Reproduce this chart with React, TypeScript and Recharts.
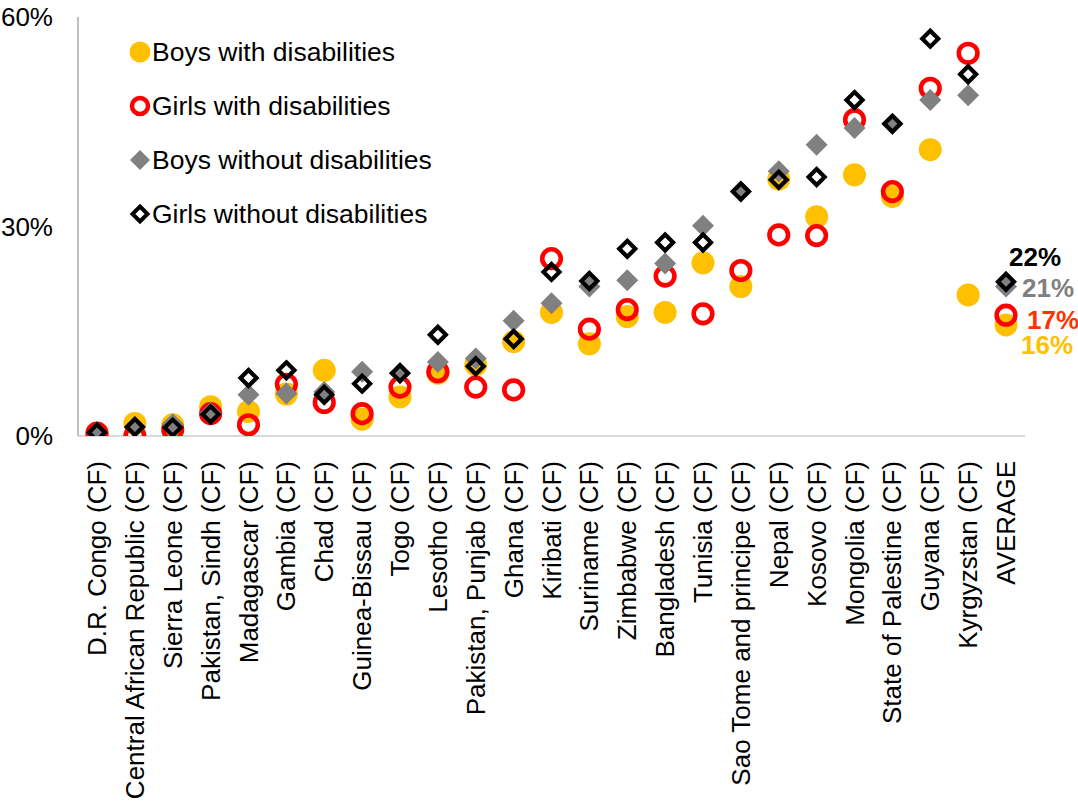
import React from "react";
import { ComposedChart, Scatter, XAxis, YAxis, Legend, LabelList } from "recharts";

const categories = [
  "D.R. Congo (CF)", "Central African Republic (CF)", "Sierra Leone (CF)", "Pakistan, Sindh (CF)",
  "Madagascar (CF)", "Gambia (CF)", "Chad (CF)", "Guinea-Bissau (CF)", "Togo (CF)", "Lesotho (CF)",
  "Pakistan, Punjab (CF)", "Ghana (CF)", "Kiribati (CF)", "Suriname (CF)", "Zimbabwe (CF)",
  "Bangladesh (CF)", "Tunisia (CF)", "Sao Tome and principe (CF)", "Nepal (CF)", "Kosovo (CF)",
  "Mongolia (CF)", "State of Palestine (CF)", "Guyana (CF)", "Kyrgyzstan (CF)", "AVERAGE",
];

const boysWith = [0.1, 1.8, 1.6, 4.2, 3.5, 6.0, 9.4, 2.4, 5.6, 9.0, 10.2, 13.5, 17.7, 13.2, 17.1, 17.7, 24.8, 21.4, 36.8, 31.4, 37.4, 34.3, 41.0, 20.2, 15.9];
const girlsWith = [0.4, 0.0, 0.9, 3.2, 1.6, 7.4, 4.8, 3.2, 7.0, 9.2, 7.0, 6.6, 25.4, 15.3, 18.1, 22.9, 17.5, 23.7, 28.8, 28.7, 45.3, 35.0, 49.8, 54.8, 17.3];
const boysWithout = [0.5, 1.3, 1.7, 3.3, 5.9, 6.1, 6.3, 9.2, 9.0, 10.6, 11.1, 16.5, 19.0, 21.4, 22.3, 24.7, 30.1, 35.0, 37.9, 41.7, 44.1, 44.7, 48.1, 48.8, 21.4];
const girlsWithout = [0.5, 1.3, 1.2, 3.1, 8.3, 9.4, 5.9, 7.5, 9.0, 14.5, 10.0, 13.9, 23.5, 22.2, 26.8, 27.7, 27.7, 35.0, 36.7, 37.1, 48.1, 44.7, 56.9, 51.8, 22.1];

const yTicks = [0, 30, 60];
const seriesNames = ["Boys with disabilities", "Girls with disabilities", "Boys without disabilities", "Girls without disabilities"];

const YELLOW = "#FFC000";
const RED = "#FF0000";
const GRAY = "#808080";
const BLACK = "#000000";
const FONT = "'Liberation Sans', Arial, sans-serif";

const data = categories.map((name, i) => ({
  name,
  boysWith: boysWith[i],
  girlsWith: girlsWith[i],
  boysWithout: boysWithout[i],
  girlsWithout: girlsWithout[i],
}));

const lastIndex = categories.length - 1;

const YellowDot = (p: any) => <circle cx={p.cx} cy={p.cy} r={11.5} fill={YELLOW} />;
const RedRing = (p: any) => <circle cx={p.cx} cy={p.cy} r={9.3} fill="none" stroke={RED} strokeWidth={4.6} />;
const diamond = (cx: number, cy: number, h: number) =>
  `${cx},${cy - h} ${cx + h},${cy} ${cx},${cy + h} ${cx - h},${cy}`;
const GrayDiamond = (p: any) => <polygon points={diamond(p.cx, p.cy, 11)} fill={GRAY} />;
const BlackDiamond = (p: any) => (
  <polygon points={diamond(p.cx, p.cy, 8)} fill="none" stroke={BLACK} strokeWidth={4.2} strokeLinejoin="miter" />
);

const makeLabel = (color: string, dx: number, dy: number) => (props: any) => {
  const { x, y, width, height, value, index } = props;
  if (index !== lastIndex) return null;
  const cx = x + (width || 0) / 2;
  const cy = y + (height || 0) / 2;
  return (
    <text x={cx + dx} y={cy + dy} dy="0.35em" fill={color} fontSize={26} fontWeight="bold" fontFamily={FONT} textAnchor="start">
      {Math.round(value)}%
    </text>
  );
};

const XTick = (props: any) => {
  const { x, y, payload } = props;
  return (
    <text
      x={0}
      y={0}
      transform={`translate(${x},${y + 17}) rotate(-90)`}
      textAnchor="end"
      dy="0.35em"
      fontSize={26}
      fontFamily={FONT}
      fill="#000"
    >
      {payload.value}
    </text>
  );
};

const legendIcons = [
  <circle key="a" cx={11} cy={11} r={10.5} fill={YELLOW} />,
  <circle key="b" cx={11} cy={11} r={8} fill="none" stroke={RED} strokeWidth={4.5} />,
  <polygon key="c" points={diamond(11, 11, 10)} fill={GRAY} />,
  <polygon key="d" points={diamond(11, 11, 7.5)} fill="none" stroke={BLACK} strokeWidth={4} />,
];

const LegendContent = () => (
  <div style={{ fontFamily: FONT, fontSize: 26.5, color: "#000" }}>
    {seriesNames.map((n, i) => (
      <div key={n} style={{ height: 54, display: "flex", alignItems: "center", whiteSpace: "nowrap" }}>
        <svg width={22} height={22} style={{ marginRight: 1 }}>{legendIcons[i]}</svg>
        <span>{n}</span>
      </div>
    ))}
  </div>
);

export default function App() {
  return (
    <div style={{ position: "absolute", left: 0, top: 0, width: 1078, height: 803, background: "#fff" }}>
      <ComposedChart width={1078} height={803} data={data} margin={{ top: 17, right: 53, left: 0, bottom: 0 }}>
        <XAxis
          dataKey="name"
          type="category"
          interval={0}
          height={367}
          padding={{ left: 19, right: 19 }}
          axisLine={{ stroke: "#D9D9D9", strokeWidth: 2 }}
          tickLine={false}
          tick={<XTick />}
        />
        <YAxis
          type="number"
          domain={[0, 60]}
          ticks={yTicks}
          width={78}
          axisLine={{ stroke: "#BFBFBF", strokeWidth: 2 }}
          tickLine={false}
          tickSize={6}
          tickMargin={19}
          tickFormatter={(v: number) => `${v}%`}
          tick={{ fontSize: 26, fontFamily: FONT, fill: "#000" }}
          allowDataOverflow
        />
        <Legend
          layout="vertical"
          align="center"
          verticalAlign="middle"
          content={<LegendContent />}
          wrapperStyle={{ left: 129, top: 25, width: 420, height: 220 }}
        />
        <Scatter name={seriesNames[0]} dataKey="boysWith" fill={YELLOW} shape={YellowDot} isAnimationActive={false}>
          <LabelList dataKey="boysWith" content={makeLabel(YELLOW, 15, 20)} />
        </Scatter>
        <Scatter name={seriesNames[1]} dataKey="girlsWith" fill={RED} shape={RedRing} isAnimationActive={false}>
          <LabelList dataKey="girlsWith" content={makeLabel("#FF3300", 21, 5)} />
        </Scatter>
        <Scatter name={seriesNames[2]} dataKey="boysWithout" fill={GRAY} shape={GrayDiamond} isAnimationActive={false}>
          <LabelList dataKey="boysWithout" content={makeLabel(GRAY, 16, 1)} />
        </Scatter>
        <Scatter name={seriesNames[3]} dataKey="girlsWithout" fill={BLACK} shape={BlackDiamond} isAnimationActive={false}>
          <LabelList dataKey="girlsWithout" content={makeLabel(BLACK, 3, -25)} />
        </Scatter>
      </ComposedChart>
    </div>
  );
}
